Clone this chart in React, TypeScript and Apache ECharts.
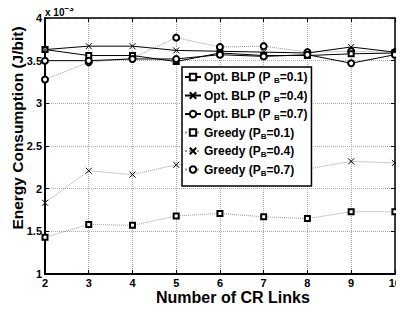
import React, { useEffect, useRef } from "react";
import * as echarts from "echarts";

const xLinks = [2, 3, 4, 5, 6, 7, 8, 9, 10];
const optBLP01 = [3.63, 3.56, 3.56, 3.49, 3.59, 3.56, 3.56, 3.58, 3.59];
const optBLP04 = [3.63, 3.67, 3.67, 3.62, 3.61, 3.6, 3.59, 3.66, 3.6];
const optBLP07 = [3.5, 3.5, 3.52, 3.52, 3.57, 3.55, 3.57, 3.47, 3.57];
const greedy01 = [1.43, 1.58, 1.57, 1.68, 1.71, 1.67, 1.65, 1.73, 1.73];
const greedy04 = [1.835, 2.21, 2.165, 2.28, 2.3, 2.27, 2.23, 2.32, 2.3];
const greedy07 = [3.28, 3.48, 3.53, 3.77, 3.66, 3.67, 3.6, 3.61, 3.6];
const seriesNames = [
  "Opt. BLP (P {sb|B}=0.1)",
  "Opt. BLP (P {sb|B}=0.4)",
  "Opt. BLP (P {sb|B}=0.7)",
  "Greedy (P{sb|B}=0.1)",
  "Greedy (P{sb|B}=0.4)",
  "Greedy (P{sb|B}=0.7)",
];

const FONT = "Liberation Sans, Arial, sans-serif";
const X_SYM = "path://M0,0L10,10M10,0L0,10";

export default function App() {
  const ref = useRef<HTMLDivElement>(null);
  useEffect(() => {
    if (!ref.current) return;
    const chart = echarts.init(ref.current, null, { renderer: "svg" });
    const pair = (ys: number[]) => xLinks.map((x, i) => [x, ys[i]]);
    const mk = (
      name: string,
      ys: number[],
      symbol: string,
      solid: boolean,
      size: number
    ) => ({
      name,
      type: "line",
      data: pair(ys),
      symbol,
      symbolSize: size,
      showSymbol: true,
      lineStyle: solid
        ? { color: "#000", width: 1, type: "solid" }
        : { color: "#999", width: 1, type: "dotted" },
      itemStyle: {
        color: "#000",
        borderColor: "#000",
        borderWidth: 1,
      },
      z: solid ? 3 : 2,
    });
    const xSeries = (name: string, ys: number[], solid: boolean) => ({
      ...mk(name, ys, X_SYM, solid, 6),
      itemStyle: { color: "none", borderColor: "#000", borderWidth: 1 },
    });
    chart.setOption({
      animation: false,
      backgroundColor: "#fff",
      grid: { left: 45, top: 18, right: 5, bottom: 39 },
      xAxis: [
        {
          type: "value",
          min: 2,
          max: 10,
          interval: 1,
          axisLine: { lineStyle: { color: "#000", width: 2 } },
          axisTick: { inside: true, length: 4, lineStyle: { color: "#000" } },
          axisLabel: {
            color: "#000",
            fontFamily: FONT,
            fontWeight: "bold",
            fontSize: 11,
            margin: 3,
          },
          splitLine: {
            show: true,
            lineStyle: { color: "#aaa", type: "dotted", width: 1 },
          },
        },
        {
          type: "value",
          position: "top",
          min: 2,
          max: 10,
          interval: 1,
          axisLine: { lineStyle: { color: "#000", width: 1.5 } },
          axisTick: { inside: true, length: 4, lineStyle: { color: "#000" } },
          axisLabel: { show: false },
          splitLine: { show: false },
        },
      ],
      yAxis: [
        {
          type: "value",
          min: 1,
          max: 4,
          interval: 0.5,
          axisLine: { lineStyle: { color: "#000", width: 2 } },
          axisTick: { inside: true, length: 4, lineStyle: { color: "#000" } },
          axisLabel: {
            color: "#000",
            fontFamily: FONT,
            fontWeight: "bold",
            fontSize: 11,
            margin: 3,
          },
          splitLine: {
            show: true,
            lineStyle: { color: "#aaa", type: "dotted", width: 1 },
          },
        },
        {
          type: "value",
          position: "right",
          min: 1,
          max: 4,
          interval: 0.5,
          axisLine: { show: true, lineStyle: { color: "#000", width: 1.5 } },
          axisTick: { show: true, inside: true, length: 4, lineStyle: { color: "#000" } },
          axisLabel: { show: false },
          splitLine: { show: false },
        },
      ],
      legend: {
        orient: "vertical",
        left: 182,
        top: 67,
        width: 126,
        itemWidth: 16,
        itemHeight: 8,
        itemGap: 5,
        padding: [4, 4, 9, 2],
        backgroundColor: "#fff",
        borderColor: "#000",
        borderWidth: 1.5,
        borderRadius: 0,
        data: seriesNames,
        formatter: (n: string) => n,
        textStyle: {
          color: "#000",
          fontFamily: FONT,
          fontWeight: "bold",
          fontSize: 12,
          padding: [0, 0, 0, -2],
          rich: {
            sb: {
              fontFamily: FONT,
              fontWeight: "bold",
              fontSize: 8,
              color: "#000",
              padding: [7, 0, 0, 0],
            },
          },
        },
      },
      graphic: [
        {
          type: "text",
          left: 156,
          top: 289,
          style: {
            text: "Number of CR Links",
            fill: "#000",
            font: `bold 16px ${FONT}`,
          },
        },
        {
          type: "text",
          x: 17,
          y: 128,
          rotation: Math.PI / 2,
          style: {
            text: "Energy Consumption (J/bit)",
            fill: "#000",
            font: `bold 15.5px ${FONT}`,
            align: "center",
            verticalAlign: "middle",
          },
        },
        {
          type: "text",
          left: 45,
          top: 4,
          style: {
            text: "x 10{sp|−3}",
            fill: "#000",
            font: `bold 10px ${FONT}`,
            rich: {
              sp: {
                fontSize: 8,
                fontFamily: FONT,
                fontWeight: "bold",
                fill: "#000",
                padding: [0, 0, 8, 0],
              },
            },
          },
        },
      ],
      series: [
        mk(seriesNames[0], optBLP01, "emptyRect", true, 5),
        xSeries(seriesNames[1], optBLP04, true),
        mk(seriesNames[2], optBLP07, "emptyCircle", true, 6),
        mk(seriesNames[3], greedy01, "emptyRect", false, 5),
        xSeries(seriesNames[4], greedy04, false),
        mk(seriesNames[5], greedy07, "emptyCircle", false, 6),
      ],
    });
    return () => chart.dispose();
  }, []);
  return <div ref={ref} style={{ width: 404, height: 313, margin: -8 }} />;
}
